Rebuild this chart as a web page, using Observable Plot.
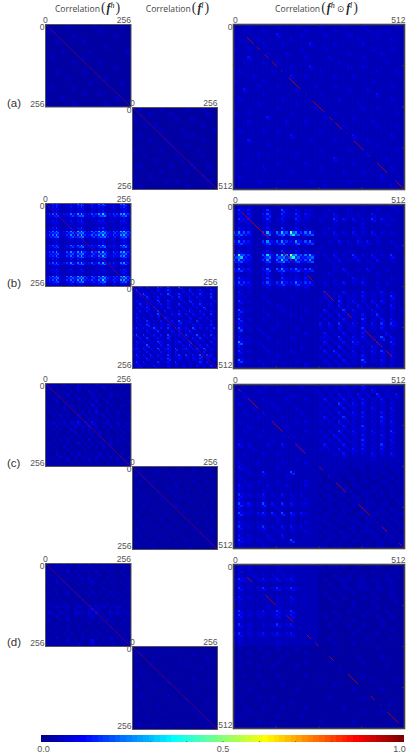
<!DOCTYPE html>
<html><head><meta charset="utf-8">
<script src="https://cdn.jsdelivr.net/npm/d3@7"></script>
<script src="https://cdn.jsdelivr.net/npm/@observablehq/plot@0.6"></script>
<style>
html,body{margin:0;padding:0;background:#fff;width:415px;height:755px;overflow:hidden}
#page{position:relative;width:415px;height:755px}
#page svg{position:absolute}
.title{position:absolute;top:0;height:17px;line-height:17px;white-space:nowrap;transform:translateX(-50%);font:8.6px "Open Sans",sans-serif;color:#444}
.title .p{font-size:14px;font-weight:300;font-family:"Liberation Serif",serif;color:#333;margin:0 1px}
.title i{font:italic bold 11.5px "Liberation Serif",serif;color:#222}
.title sup{font:italic 8px "Liberation Serif",serif;vertical-align:4px;line-height:0;color:#222}
.title .o{font:9px "DejaVu Sans",sans-serif;margin:0 2px}
.row{position:absolute;left:7px;font:11.5px "Liberation Sans",sans-serif;color:#333;transform:translateY(-50%)}
</style></head><body><div id="page"></div>
<script>
// Heat levels: each character is one cell, read base-36 as a correlation step
const aHigh=[
"0000100001000010","0100000000100000","0000010000000100","0010000100000000",
"0000000000010000","0001000010000001","0100000100000000","0000010000100000",
"0000000000000100","0010000100000000","0000100000010000","0000000010000010",
"0100010000000000","0000000100100000","0001000000000100","0000010000010000"];
const aLow=[
"0100010000100100","0001000100000010","1000000010010000","0010100000000100",
"0000010001000001","0100000000110000","0001001000000100","0000000100100000",
"1000010000001000","0010000010000100","0000100001000000","0100000100010010",
"0000010000100000","1001000000000100","0000001010000010","0100000000100000"];
const aBoth=[
"111211111211121111211112111211111121",
"112111211111111211111211111121112111",
"111111111311112111121111211111211111",
"121112111111211111111111112111111211",
"111111211121111131111211111211111111",
"211211111111112111121111111112111211",
"111111121112111111111111211111121111",
"111311111111111211112111111211111111",
"112111211211111111111121111111112111",
"111111111111211131111111211211111111",
"121111112111111111211111111111211121",
"111121111111311211111211121111111111",
"211111211111111111111111111112111111",
"111112111211111112111211111111111211",
"113111111111121111111111211121111111",
"111111211111111111211111111111311111",
"121111111121111111111121111111111211",
"111112111111121111111111112111111111",
"111111111211111112111111111211211111",
"211211111111211111111211111111111121",
"111111131111111111121111121111111111",
"111211111112111211111111111112111111",
"111111111111111111111112111111211121",
"121111211211111111211111111111111111",
"111111111111311111111111131111111211",
"111311111111111121111211111121111111",
"111111121111111111111111111111211111",
"211111111211111111211111211111111121",
"111112111111121111111111111121111111",
"111111111111111111111311111111112111",
"112111111211111211111111121111111111",
"111111211111111111211111111111111211",
"111111111111211111111112111211111111",
"121111111111111111111111111111121111",
"111112111211111121111111211111111111",
"111111111111111111121111111111111211"];
const bHigh=[
"124511232561242561231561",
"123411231341132331231341",
"112311121221121231121231",
"245623364783354793354784",
"122311121231121221121231",
"123312231341122331221331",
"112211121221111221121221",
"123411231341122341121231",
"356723575894365895364895",
"356822475794365795253784",
"122311231341122331231341",
"112311121221121231121231",
"245612363683343682342683",
"122311121231121221121221",
"355722574794264784253784",
"244622463683353684243673",
"123311231331122331121231",
"245623473683353683342673",
"112211121221111221121221",
"123411231241122231231341",
"112311121221121221111231",
"356822575895264795354895",
"245722464794353694253784",
"123311231331122341131331"];
const bLow=[
"123131243141152131211321",
"241212131241213141231132",
"123521213151241223141241",
"212141231213142131322141",
"132213151241213152131213",
"214131223131241213241231",
"131241312141213131315121",
"223131241312131242131232",
"131213151213241313123141",
"241312131431212141231312",
"132141213123151231412131",
"213251312141231213131241",
"341323513141342315131324",
"122131241213131241212131",
"351412313151231412513142",
"213141232141213213141213",
"142313153121341251312141",
"231251213141213141231312",
"341413151341513413415132",
"122131213121312131213121",
"241314132141341413151431",
"132141213151231213141213",
"241312141231412131241312",
"123121312131213121312141"];
const bBoth=[
"121211211211211111111211111211111211",
"242311241152131221112111211111211121",
"132311351142241321121311212113112111",
"143311241231142211211413131214131211",
"121211121121121111111211111211112111",
"132211231141231211112111121211111111",
"575411482695d74671121312131213121211",
"132211121131221111111211112111211111",
"464311473574373561112131213131211211",
"121211121121121111211111111211111121",
"132211231142231211111211211111211111",
"6c5411593797f85682121312141213121411",
"574311472695474571112131213121311211",
"131211121131121111111211111112111111",
"463311361573463451111213112131112111",
"121211231131221211112111211111211111",
"242211241142231311111211131211111211",
"354311352463363441121213121311212111",
"121211121121121211111121111111211111",
"131211111111111111131213121312131211",
"122111211111211111122131221312121411",
"141211121111111111212141231213131211",
"121111111211111111112131213121311311",
"152211211121111211131214131213121212",
"131111121111211111212131221312411211",
"151211211111112111121213121412131311",
"132111111211111111313141231213141421",
"161212112111121111212131221412131211",
"121111211111111211131213121311213111",
"131211121111211111222141231312151311",
"172212111211111111131213143121311411",
"131111211111112111212131221213121211",
"141211121111211111131412131213141211",
"121111111211111111212131221312121311",
"162212112111121111121213121512131211",
"121111211111111211112121211211121211"];
const cHigh=[
"101002010110102101011010",
"010100100201010020100100",
"100101010100201001010001",
"010010201010020100201010",
"001101010201011010100100",
"100200100010102002010001",
"010101020101030100100110",
"101002001010102002010100",
"010100101020203101002010",
"001020100201011020101001",
"100101010100201001010100",
"112012021302031012102011",
"010201103021302010201010",
"101010021010201001010101",
"010100102010110201001010",
"100101010101010100100100",
"001010201010201010101010",
"010100100201010100201001",
"101002010010101020100100",
"010100101001001001010010",
"100201010201010201010100",
"111021102011102110201101",
"010100201010201001001010",
"101010010101010100101001"];
const cLow=[
"010001000100010001000100",
"001000010000100001001000",
"010000100010000100000010",
"000100000001000000100000",
"001000100000010001000100",
"000001000100200000100000",
"010000000010000100000010",
"000100010001000000010000",
"001000000000100100000100",
"000010001000010000100000",
"010000100100000010000010",
"000100000000200000001000",
"001001000010000100000000",
"000000010000001000100100",
"010000000100000000000010",
"000010001000100010000000",
"001000000000000000100100",
"000100100010000100000000",
"010000000000100001000010",
"000001000100000000010000",
"001000010000001000000100",
"000100000010000100100000",
"010001000000100000000010",
"000000100100000010000000"];
const cBoth=[
"111111211111112111121213121412121211",
"121112111211111112111211211213112111",
"112111111111211111212131213121412131",
"111211211112111211131213121312131211",
"121111112111111111212141231312121211",
"111121111211121111121213121213121311",
"112111211111112111212131231312131211",
"111112111121111111131214121312141211",
"121111112111121211212131221212131311",
"111211111112111111111213121412121211",
"112111211111111211212141231213121411",
"111112111121211111121312121312131211",
"121111112111111111212131221412121311",
"131211121131121111131213121312141211",
"111121111111112111212131231312131211",
"112111211211111111111213121213121311",
"111111111111121111111111111112111111",
"121112111121111211111111111111111111",
"132111111211111111111111011101110111",
"111211411111511111011101100111011011",
"121111211112111111101110110101101101",
"112112111211111211100110010110011011",
"131211121112111211011011011001101101",
"121111211111111111101101100111010110",
"142212312131212111011011010110110101",
"131111211211211211101100111011001011",
"152312513141312211011011011011011001",
"131211211211111111101101100110110110",
"152213414151413211011011001101101011",
"121111211211211111110110110011010110",
"132112111211111211011011011011001011",
"141212412131312111101100110110110101",
"121111211211211211011011010111011010",
"131211121131111111101101101001101101",
"142212112111511111011011011010110101",
"121111211111111111110110100110110011"];
const dHigh=[
"010102010110201010100100",
"001010100101010010100010",
"100100201010102001010100",
"010010010100100100100010",
"001100101020201001010001",
"100201001010120010100100",
"010010100100010100010010",
"001001010010100010010001",
"010100201001020100201010",
"100100100100101001010100",
"001010010010010010001001",
"010001001001001001010010",
"111211201210212120112101",
"010100102010130100101010",
"121021102211213110212111",
"001200101010120010100101",
"110010201001010102010010",
"010100010010100100010100",
"001010100100010010100010",
"010100100101001001001001",
"001001010010010100010010",
"100200101020101010201010",
"010100201010130010100101",
"101010010200120101020010"];
const dLow=[
"000000010000000000001000",
"000100000000100000000000",
"001000000100000001000000",
"000000100000000000000100",
"010000000000010000000000",
"000001000000000100000000",
"000000000100000000010000",
"001000000000000000000000",
"000000010000100000000000",
"000100000000000001000000",
"000000000010000000000100",
"010000100000000000000000",
"000000000000010000000000",
"000001000000000000100000",
"001000000010000000000000",
"000000000000000100000000",
"000100000000000000000100",
"000000010000100000000000",
"010000000000000001000000",
"000000000100000000000000",
"000010000000000000010000",
"000000000000100000000100",
"001000100000000000000000",
"000000000010000010000100"];
const dBoth=[
"121211211211211111101101001000100010",
"121211111211111111010010010001000100",
"121121212121211111000100100100001010",
"242212312312311111010011101101101100",
"121111111111111111001001001100100100",
"141212412412421111000101101110110100",
"121111111111111111010010010001000100",
"231211211211311111001001000100100100",
"121111111211211111000100010001000010",
"121111121211111111000000010000100000",
"241212312412411111000100100010001000",
"241212212312311111010010000100100100",
"121111111111111111000100010000010000",
"241211212412311111001000100100010000",
"121211111111111111000000001000000100",
"241212312312311111000100010000100000",
"121111111111111111001000000010000100",
"121111111211111111000100010000000000",
"010001000100010000000000000000100000",
"000100010001000100000100000000000000",
"010000100010000000000000001000010000",
"000100000100000100001000000100000000",
"010001001000010000000000000000001000",
"000000000000000000000010000000000000",
"001001000100000100000000000100000000",
"000000000000000000100000000001000010",
"010000100010000000000100000000000000",
"000100000000010000000000010000010000",
"000000000000000000000000000000000000",
"010001001000000000001000000100000000",
"000000000000100000000000000000000100",
"001000100010000100000001000000000000",
"000100000000000000000000000100010000",
"010000000100001000000000000000000000",
"000001000000000000100000010000000100",
"000000001000000000000000000000000000"];
// Bright pieces along the diagonal of each combined panel [from, to]
const aSeg=[[40,60],[70,78],[93,105],[115,130],[143,146],[165,200],[218,220],[237,270],[287,297],[305,325],[337,339],[360,390],[405,407],[430,460],[485,507]];
const bSeg=[[25,50],[50,107],[147,180],[207,209],[223,237],[270,300],[325,327],[340,355],[370,372],[395,445],[455,475]];
const cSeg=[[13,22],[43,75],[90,92],[115,147],[163,165],[185,215],[240,242],[257,267],[283,285],[307,337],[375,410],[430,432],[445,460],[495,505]];
const dSeg=[[23,25],[40,55],[70,72],[95,127],[160,180],[197,199],[220,233],[245,255],[270,272],[287,300],[320,322],[343,373],[410,423],[440,442],[460,495]];
const rowNames=["(a)","(b)","(c)","(d)"];
const rowY=[103,283,463,642];
const barTicks=[0,0.5,1];
const barMinor=[0.1,0.2,0.3,0.4,0.5,0.6,0.7,0.8,0.9];
const barSteps=d3.range(64);
const bigMarks=[128,256,384];
// Each read cell holds a bright dot and dimmer neighbours, as the lattice does in the source
const cellTexture=[[1,0.4],[0.5,0.7]];

const jet={type:"linear",domain:[0,.111,.365,.619,.873,1],range:["#00008f","#0000ff","#00ffff","#ffff00","#ff0000","#800000"],interpolate:"rgb"};
const page=document.getElementById("page");
function cells(grid,span){
  const out=[];
  grid.forEach((row,r)=>[...row].forEach((ch,c)=>{
    const w=span/row.length/2,h=span/grid.length/2,d=parseInt(ch,36);
    cellTexture.forEach((tr,i)=>tr.forEach((k,j)=>out.push({
      x1:c*2*w+j*w,x2:c*2*w+(j+1)*w,y1:r*2*h+i*h,y2:r*2*h+(i+1)*h,v:0.02+0.034*d*k})));
  }));
  return out;
}
function place(svg,left,top){svg.style.left=left+"px";svg.style.top=top+"px";page.appendChild(svg);}
function panel(grid,left,top,w,h,span,segs){
  const mL=18,mT=12,mR=4,mB=3,big=span===512;
  const axisStyle={tickSize:0,color:"#555"};
  const marks=[
    Plot.rect(cells(grid,span),{x1:"x1",x2:"x2",y1:"y1",y2:"y2",fill:"v",shapeRendering:"crispEdges"}),
    segs
      ? Plot.link(segs,{x1:d=>d[0],y1:d=>d[0],x2:d=>d[1],y2:d=>d[1],stroke:"#a00818",strokeWidth:1})
      : Plot.link([[0,span]],{x1:d=>d[0],y1:d=>d[0],x2:d=>d[1],y2:d=>d[1],stroke:"#a00040",strokeWidth:.9,strokeOpacity:.55}),
    Plot.frame({stroke:big?"#444":"#555",strokeWidth:big?1.6:1}),
    Plot.axisX([0],{...axisStyle,anchor:"top",tickPadding:2,textAnchor:"middle",dx:big?2:0}),
    Plot.axisX([span],{...axisStyle,anchor:"top",tickPadding:2,textAnchor:"end",dx:big?1:0}),
    Plot.axisY([0],{...axisStyle,anchor:"left",tickPadding:1,dy:3}),
    Plot.axisY([span],{...axisStyle,anchor:"left",tickPadding:1,dy:-3})
  ];
  if(big){
    marks.push(
      Plot.ruleX(bigMarks,{x:d=>d,y1:0,y2:6,stroke:"#333"}),
      Plot.ruleX(bigMarks,{x:d=>d,y1:506,y2:512,stroke:"#333"}),
      Plot.ruleY(bigMarks,{y:d=>d,x1:0,x2:6,stroke:"#333"}),
      Plot.ruleY(bigMarks,{y:d=>d,x1:506,x2:512,stroke:"#333"}));
  }
  const svg=Plot.plot({width:w+mL+mR,height:h+mT+mB,marginLeft:mL,marginTop:mT,marginRight:mR,marginBottom:mB,
    x:{domain:[0,span],axis:null},y:{domain:[span,0],axis:null},color:jet,
    style:{background:"transparent",fontFamily:"Liberation Sans",fontSize:"8.6px",overflow:"visible"},marks});
  place(svg,left-mL,top-mT);
}
[[aHigh,24,82.5],[bHigh,203,83],[cHigh,383,83],[dHigh,563,83]].forEach(([g,t,h])=>panel(g,45,t,85.5,h,256));
[[aLow,107,82],[bLow,286,82],[cLow,466,83],[dLow,646,83]].forEach(([g,t,h])=>panel(g,132,t,85,h,256));
[[aBoth,aSeg,24,165],[bBoth,bSeg,204,164],[cBoth,cSeg,384,164],[dBoth,dSeg,564,164]].forEach(([g,s,t,h])=>panel(g,233,t,171,h,512,s));

const bar=Plot.plot({width:371,height:20,marginLeft:4,marginRight:4,marginTop:0,marginBottom:13,
  x:{domain:[0,1],axis:null},y:{domain:[0,1],axis:null},color:jet,
  style:{background:"transparent",fontFamily:"Liberation Sans",fontSize:"9px",overflow:"visible"},
  marks:[
    Plot.rect(barSteps,{x1:d=>d/64,x2:d=>(d+1)/64,y1:0,y2:1,fill:d=>d/63,shapeRendering:"crispEdges"}),
    Plot.ruleX(barMinor,{x:d=>d,y1:0,y2:0.14,stroke:"#333",strokeOpacity:.7}),
    Plot.axisX(barTicks.slice(0,1),{tickSize:0,tickPadding:3,color:"#555",anchor:"bottom",dx:2,tickFormat:d3.format(".1f")}),
    Plot.axisX(barTicks.slice(1,2),{tickSize:0,tickPadding:3,color:"#555",anchor:"bottom",tickFormat:d3.format(".1f")}),
    Plot.axisX(barTicks.slice(2),{tickSize:0,tickPadding:3,color:"#555",anchor:"bottom",dx:-5,tickFormat:d3.format(".1f")})
  ]});
place(bar,37,735);

const P=s=>`<span class="p">${s}</span>`;
const f=s=>`<i>f</i><sup>${s}</sup>`;
[[88,`Correlation${P("(")}${f("h")}${P(")")}`],
 [178,`Correlation${P("(")}${f("l")}${P(")")}`],
 [317,`Correlation${P("(")}${f("h")}<span class="o">⊙</span>${f("l")}${P(")")}`]].forEach(([x,html])=>{
  const d=document.createElement("div");d.className="title";d.style.left=x+"px";d.innerHTML=html;page.appendChild(d);
});
rowNames.forEach((n,i)=>{
  const d=document.createElement("div");d.className="row";d.style.top=rowY[i]+"px";d.textContent=n;page.appendChild(d);
});
</script></body></html>
